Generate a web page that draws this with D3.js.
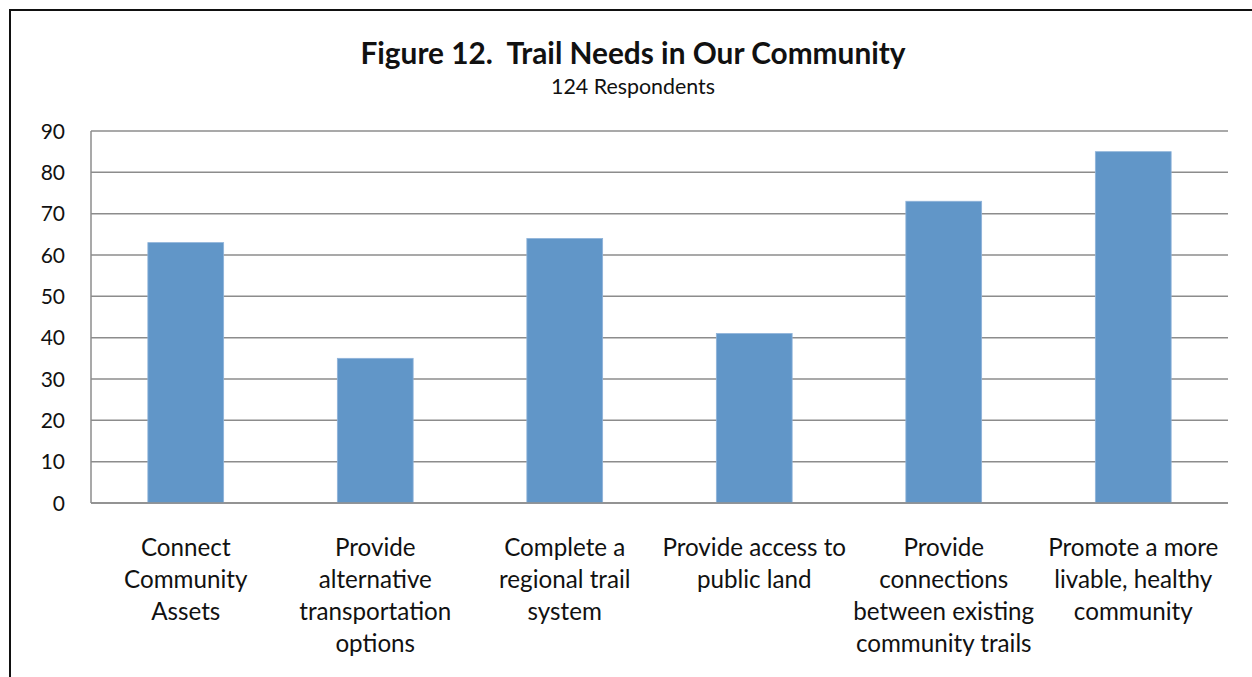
<!DOCTYPE html>
<html><head><meta charset="utf-8">
<script src="https://cdn.jsdelivr.net/npm/d3@7"></script>
<style>
html,body{margin:0;padding:0;background:#fff;overflow:hidden;}
svg{display:block;}
</style></head>
<body>
<script>
const categories = [
  ["Connect", "Community", "Assets"],
  ["Provide", "alternative", "transportation", "options"],
  ["Complete a", "regional trail", "system"],
  ["Provide access to", "public land"],
  ["Provide", "connections", "between existing", "community trails"],
  ["Promote a more", "livable, healthy", "community"]
];
const values = [63, 35, 64, 41, 73, 85];
const yTicks = [0, 10, 20, 30, 40, 50, 60, 70, 80, 90];
const titleText = "Figure 12.  Trail Needs in Our Community";
const subtitleText = "124 Respondents";

(function () {
const W = 1252, H = 677;
const font = "Lato, 'Open Sans', 'Liberation Sans', sans-serif";
const svg = d3.select("body").append("svg").attr("width", W).attr("height", H);

// outer frame (extends beyond picture at right/bottom)
svg.append("rect").attr("x", 10).attr("y", 10).attr("width", W + 20).attr("height", H + 20)
  .attr("fill", "#fff").attr("stroke", "#111").attr("stroke-width", 2);

const pl = 91, pr = 1228, pt = 131, pb = 503;
const x = d3.scaleBand().domain(d3.range(categories.length)).range([pl, pr])
  .paddingInner(0.6).paddingOuter(0.3);
const y = d3.scaleLinear().domain([0, 90]).range([pb, pt]);

// gridlines
svg.append("g").selectAll("line").data(yTicks).join("line")
  .attr("x1", pl).attr("x2", pr)
  .attr("y1", d => y(d)).attr("y2", d => y(d))
  .attr("stroke", "#8c8c8c").attr("stroke-width", 1.5);

// y axis line
svg.append("line").attr("x1", pl).attr("x2", pl).attr("y1", pt).attr("y2", pb)
  .attr("stroke", "#8c8c8c").attr("stroke-width", 1.5);

// y labels
svg.append("g").selectAll("text").data(yTicks).join("text")
  .attr("x", 65).attr("y", d => y(d)).attr("dy", "0.36em")
  .attr("text-anchor", "end").attr("font-family", font).attr("font-size", 21)
  .attr("fill", "#111").text(d => d);

// bars
svg.append("g").selectAll("rect").data(values).join("rect")
  .attr("x", (d, i) => x(i)).attr("width", x.bandwidth())
  .attr("y", d => y(d)).attr("height", d => y(0) - y(d))
  .attr("fill", "#6196c8").attr("stroke", "#8fb3da").attr("stroke-width", 0.8);

// x axis line
svg.append("line").attr("x1", pl).attr("x2", pr).attr("y1", pb).attr("y2", pb)
  .attr("stroke", "#8c8c8c").attr("stroke-width", 1.5);

// category labels
const cg = svg.append("g").selectAll("text").data(categories).join("text")
  .attr("text-anchor", "middle").attr("font-family", font).attr("font-size", 24.2).attr("fill", "#111");
cg.each(function(lines, i) {
  const t = d3.select(this);
  lines.forEach((l, j) => {
    t.append("tspan").attr("x", x(i) + x.bandwidth() / 2).attr("y", 556 + j * 32).text(l);
  });
});

// titles
svg.append("text").attr("x", 633).attr("y", 64).attr("text-anchor", "middle")
  .attr("xml:space", "preserve").style("white-space", "pre")
  .attr("font-family", font).attr("font-weight", "bold").attr("font-size", 29.8).attr("fill", "#111")
  .text(titleText);
svg.append("text").attr("x", 633).attr("y", 94).attr("text-anchor", "middle")
  .attr("font-family", font).attr("font-size", 21.4).attr("fill", "#111")
  .text(subtitleText);
})();
</script>
</body></html>
